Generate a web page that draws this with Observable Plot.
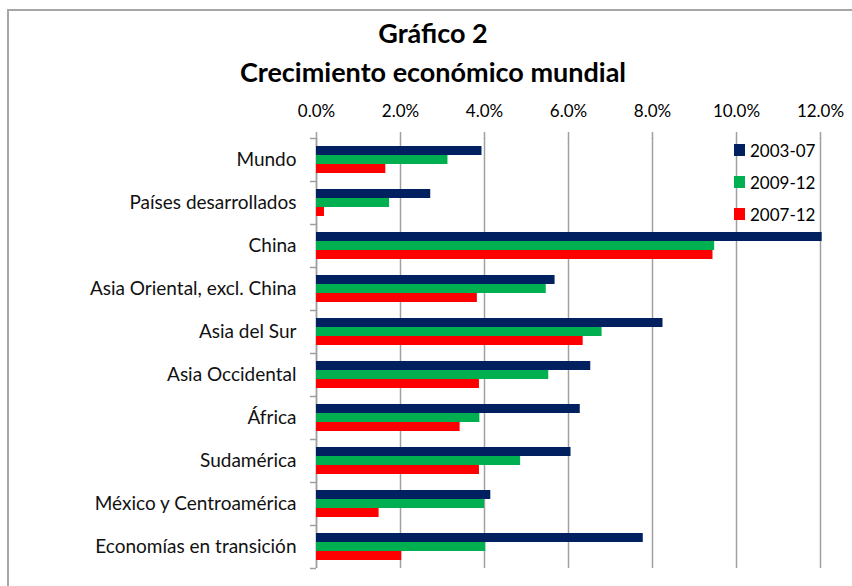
<!DOCTYPE html>
<html>
<head>
<meta charset="utf-8">
<script src="https://cdn.jsdelivr.net/npm/d3@7"></script>
<script src="https://cdn.jsdelivr.net/npm/@observablehq/plot@0.6"></script>
<style>
  html, body { margin: 0; padding: 0; background: #fff; }
  #wrap { position: relative; width: 852px; height: 586px; overflow: hidden; font-family: Lato, "Noto Sans", sans-serif; }
  #frame { position: absolute; left: 7px; top: 9px; width: 900px; height: 700px; border-left: 2px solid #a6a6a6; border-top: 2px solid #a6a6a6; box-sizing: border-box; }
  .t { position: absolute; left: 0; width: 866px; text-align: center; font-weight: bold; color: #000; font-size: 27px; line-height: 1; }
  #chart { position: absolute; left: 0; top: 0; }
  #legend { position: absolute; left: 734px; top: 134px; font-size: 17px; color: #000; }
  #legend div { display: flex; align-items: center; height: 32px; }
  #legend span.sw { display: inline-block; width: 11px; height: 12px; margin-right: 5px; }
</style>
</head>
<body>
<div id="wrap">
  <div id="frame"></div>
  <div class="t" style="top:19px">Gráfico 2</div>
  <div class="t" style="top:58px">Crecimiento económico mundial</div>
  <div id="chart"></div>
  <div id="legend"></div>
</div>
<script>
const categories = ["Mundo", "Países desarrollados", "China", "Asia Oriental, excl. China", "Asia del Sur", "Asia Occidental", "África", "Sudamérica", "México y Centroamérica", "Economías en transición"];
const series = ["2003-07", "2009-12", "2007-12"];
const colors = ["#002060", "#00b050", "#ff0000"];
const v2003_07 = [3.94, 2.72, 12.04, 5.68, 8.25, 6.53, 6.28, 6.06, 4.15, 7.78];
const v2009_12 = [3.13, 1.74, 9.48, 5.47, 6.80, 5.53, 3.89, 4.86, 4.00, 4.03];
const v2007_12 = [1.65, 0.19, 9.44, 3.83, 6.35, 3.88, 3.42, 3.88, 1.49, 2.03];
const xTicks = [0, 2, 4, 6, 8, 10, 12];

const valuesBySeries = [v2003_07, v2009_12, v2007_12];
const data = [];
categories.forEach((c, i) => series.forEach((s, j) => data.push({category: c, series: s, value: valuesBySeries[j][i]})));

const W = 852, H = 586, mT = 138, mB = 18, mL = 316, mR = 32;
const half = (H - mT - mB) / categories.length / 2;
const gray = "#a0a0a0";

const chart = Plot.plot({
  width: W, height: H,
  marginTop: mT, marginBottom: mB, marginLeft: mL, marginRight: mR,
  style: {fontFamily: "Lato, 'Noto Sans', sans-serif", background: "transparent", overflow: "visible"},
  x: {domain: [0, 12], ticks: xTicks},
  fy: {domain: categories, padding: 0},
  y: {domain: series, paddingInner: 0, paddingOuter: 0.72, axis: null},
  color: {domain: series, range: colors},
  marks: [
    Plot.gridX(xTicks, {stroke: gray, strokeOpacity: 1, strokeWidth: 1.5}),
    Plot.ruleX([0], {stroke: gray, strokeWidth: 1.5}),
    Plot.axisX({anchor: "top", ticks: xTicks, tickFormat: d => d.toFixed(1) + "%", tickSize: 7, tickPadding: 15, stroke: gray, strokeWidth: 1.5, fontSize: 17, fill: "#000", label: null}),
    Plot.axisFy({anchor: "left", tickSize: 0, tickPadding: 20, fontSize: 19, fill: "#111", label: null}),
    Plot.axisFy({anchor: "left", tickSize: 6, text: null, dy: -half, stroke: gray, strokeWidth: 1.5, label: null}),
    Plot.axisFy({anchor: "left", ticks: [categories[categories.length - 1]], tickSize: 6, text: null, dy: half, stroke: gray, strokeWidth: 1.5, label: null}),
    Plot.barX(data, {fy: "category", y: "series", x: "value", fill: "series"})
  ]
});
document.getElementById("chart").appendChild(chart);

const legend = document.getElementById("legend");
series.forEach((s, j) => {
  const row = document.createElement("div");
  row.innerHTML = `<span class="sw" style="background:${colors[j]}"></span><span>${s}</span>`;
  legend.appendChild(row);
});
</script>
</body>
</html>
